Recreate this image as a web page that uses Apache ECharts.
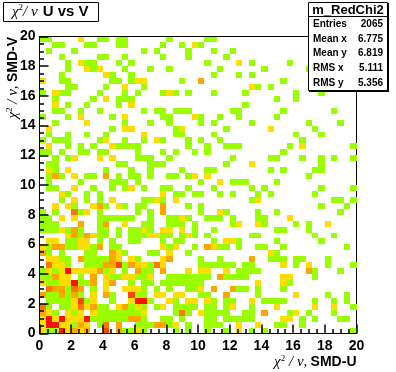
<!DOCTYPE html>
<html><head><meta charset="utf-8">
<script src="https://cdn.jsdelivr.net/npm/echarts@6/dist/echarts.min.js"></script>
<style>html,body{margin:0;padding:0;background:#fff}#c{width:396px;height:372px}</style>
</head><body><div id="c"></div>
<script>
const xMin = 0, xMax = 20, yMin = 0, yMax = 20, binSize = 0.4;
const tickInterval = 2;
const statsName = 'm_RedChi2';
const statsLabels = ['Entries', 'Mean x', 'Mean y', 'RMS x', 'RMS y'];
const statsValues = ['2065', '6.775', '6.819', '5.111', '5.356'];
const palette = {1:'#99ff00', 2:'#ffdd00', 3:'#ffa500', 4:'#ff7700', 5:'#ff4400', 6:'#ff1100'};
// Occupied bins per row (bottom row first): "column" has count 1, "column=count" otherwise.
const rows = [
"0=2 1 2 3=6 4=2 5=3 6=2 7=3 10=5 12=3 13 14 15=2 16 21 23 26 29 31=2 33 35 49",
"0=2 1=6 2=6 3=2 4=2 5 6=3 7=2 9 10=4 12=3 15 16 17 18=3 19=3 20 21=2 23 26 27 28 31=2 34=2 37 38 41",
"0=2 1=6 2=2 3=6 4=2 5=2 6=2 7=6 8 9 10 11 12 13 14=3 15=3 16 19 20 22 26 27 29 30 31 32 33 38=2 39=2 41 43 47 48",
"0=3 1=2 2 4=2 5 6=2 8=2 9 10 11 12 13 14 15 16=2 21 22=4 23 25=2 26 27 28 29 32 33 35=3 39 40=2 42 46",
"0=4 1 3 4 5=2 6=4 7=2 8=3 9 10 12=2 13=3 14 15=2 16 18 19=2 21 22 23 24 26 27 29 30=2 33 37=2 43=2 46=2 49",
"1 2 3 4 5=2 6=5 7 8=2 11 14=2 15=6 16=6 17 20=2 21 23=2 24=2 26=2 27 29 30 33=2 35 36 37 38 43 46 48",
"0=3 1 2 3=3 4 5=3 6 8=2 10=3 11 14=5 15 16 18=2 19=2 21=2 22=2 25 26 29=3 34 40=2 45 48",
"1=4 2=3 3=3 4 5=4 6=3 8 10=2 13=2 14=2 15=2 16 18 20 23 24 25=2 27=3 30=3 31 32 34 38",
"0=2 1 2 3=2 4=2 5=6 6 7 8=3 10=2 11=3 14 16 17 19 20 21 22 23 24 25 34=2 38=2 39",
"0 1 2=3 3=2 4=2 6 8=3 10=2 11 12 13=2 14=2 15 16 17=2 20 21 22 23 24 25 26 28=3 29 30 31 32 38=2 39=2 43",
"0 1=2 2 3=2 4=6 5=2 6=2 7=2 8=2 9=3 10 11=2 13 15=3 16 17 19=3 23=2 25=2 26=2 29=2 31 32 33 34 42=3 43 47",
"1=4 2=2 3=2 4 7 8 9 10=3 11=3 12=5 13 14=3 15=2 16=2 17 18=4 19=2 25 26 27 28 29 30 32 33 38=2 40 42=2 45 49",
"1=2 2=2 3 4 6=3 7 8 9 10 11=3 12=2 14=2 15 19=2 20=3 25 28 33=3 36 37 38 40 41 45",
"0=3 1 3 7 8 11=3 12=2 13 17 18 20=2 23 36=2 37",
"0=2 1 2=3 3=3 4 5 6=2 7=2 8 9=3 11 12 19=2 20 21=2 24 26=3 27=2 28 29 31 34 35 38 48",
"1=2 2=2 4 5 6=2 7=2 9 11 14 15 19 21 22 27 29=2 30=2 31 37 44",
"4=2 5=3 6 7=3 8=2 9 10 12 14 15 16 17=2 18=2 19 20 22 23=2 24 26 33 34 43 46",
"0 1 2 3=2 4 5=3 6 9 10 12 14 15 16=2 17 19=2 20=2 22=2 24 27 37 38 42",
"0 1 2 6=3 9 10=3 13=2 16 17 20 21 22 24 30 31=2 34=2 35 40 42 45=2",
"0 1 3=2 5=2 9 10 11 12 13 14 17 20 21 22=2 23 26 27 28 30 34 35 39=2",
"0 2 5=4 6 7=2 9 15 17 19=3 25 28=2 29 34 37 47",
"2=2 4=2 5 8=2 9=3 10 12=2 13 15 16 19=3 23 25 44 48",
"3 5=2 7 9 11=2 16 17 18=2 19 21=2 33 34=2 46 47 49",
"3=2 4 7 9 19=2 21 22 24 25 28 30 34 36 43",
"1 2 5=2 8 11 13 14=2 16 19 20 23 27 33 35 44 49",
"1 6 11 12 13 15 25 28=2 30 31 32 37",
"1 2=3 3 5=2 7 8 10=3 12 14 15 17 20 21 23 24=2 26=2 42",
"1=2 2 4=2 10 14 17 22 26 27 36 38 43 44",
"1 2 12 13 17 18 19 29 33=2 44",
"2 4 5=2 9=2 11=2 15 16 17 20 30 36 37 41 44 46 49",
"0 1 3 6 7 9 10 15 19 21 24 26 38",
"1=2 4 6 8 11=2 12 13 14 15 23 26 29 30 31 39 41=2 49",
"0 2 3 4 9 10=2 13 16 18=2 19 23 25 28 41",
"1 4 7 10 16=2 21 22 27 40 44",
"1=2 11 13=2 14=2 21 22=2 29 36=2 43",
"2 7=2 13 17 20 25 27 33 42 47",
"0 4 6=2 11 13=2 19 20 24=2 25 28 31 37",
"2 3 6 9 16 18 19 21 22 23 30 31 38 46",
"2=2 4 7 12 14=2 32",
"2 8 10=2 12 13 14 37 40",
"0 2=2 3 4 9 13 15 19 20=2 21 23 27 32 40 44",
"4 5 10 13=2 16 33=2 34 36",
"0=2 3 4 11 12 14 15=2 16=2 22 25=3 38",
"3 10=2 11 14 27 31 33",
"4 7=2 8 9=2 13 17 20 28 35 42",
"4 6=2 7 8 12 14 26 31=2 33 39",
"3 9 10 13 19 23 29",
"1 5 16 18 23 27 30",
"2 3 7 8 12 13 19 22 24=2 25",
"0 1 6=2 9 10 12 13 20 26 27"
];
const bins = [];
rows.forEach((row, j) => row.split(' ').forEach(tok => {
  const [c, v] = tok.split('=');
  bins.push([Number(c) * binSize, j * binSize, v ? Number(v) : 1]);
}));

const sup = {fontFamily:'Liberation Serif', fontSize:9, fontWeight:'normal', verticalAlign:'top', padding:[0,0,5,0], color:'#000'};
const sym = {fontFamily:'Liberation Serif', fontStyle:'italic', fontWeight:'normal', fontSize:15, color:'#000'};
const bold = {fontFamily:'Liberation Sans', fontWeight:'bold', fontSize:14, color:'#000'};

const statTexts = [];
statsLabels.forEach((t, i) => {
  const y = [24, 39, 53, 68, 83][i];
  statTexts.push({type:'text', style:{text:t, x:313, y, verticalAlign:'middle', align:'left', font:'bold 10px "Liberation Sans"', fill:'#000'}, z:102});
  statTexts.push({type:'text', style:{text:statsValues[i], x:383, y, verticalAlign:'middle', align:'right', font:'bold 10px "Liberation Sans"', fill:'#000'}, z:102});
});

const axisCommon = {
  type:'value', min:xMin, max:xMax, interval:tickInterval, z:10,
  axisLine:{show:true, onZero:false, lineStyle:{color:'#000', width:1}},
  axisTick:{show:true, inside:true, length:9, lineStyle:{color:'#000', width:1.5}},
  minorTick:{show:true, splitNumber:4, length:4.5, lineStyle:{color:'#000', width:1.5}},
  splitLine:{show:false},
  axisLabel:{color:'#000', fontFamily:'Liberation Sans', fontWeight:'bold', fontSize:14, margin:6, showMinLabel:true, showMaxLabel:true, hideOverlap:false}
};
const chart = echarts.init(document.getElementById('c'), null, {renderer:'canvas'});
chart.setOption({
  animation:false,
  backgroundColor:'#fff',
  title:{
    text:'{s|χ}{u|2}{s|/ ν} {b|U vs V}',
    left:3, top:2, padding:[1,10,1,9], borderColor:'#000', borderWidth:1,
    textStyle:{rich:{s:sym, u:sup, b:{...bold,fontSize:15}}}
  },
  grid:{left:39.5, right:39.5, top:36.5, bottom:38.5, outerBoundsMode:'none', containLabel:false, show:true, borderColor:'#000', borderWidth:1},
  xAxis:{...axisCommon,
    name:'{s|χ}{u|2}{s| / ν,} {b|SMD-U}', nameLocation:'end', nameGap:0,
    nameTextStyle:{color:'#000', align:'right', verticalAlign:'top', padding:[21,0,0,0], rich:{s:sym, u:sup, b:bold}}
  },
  yAxis:{...axisCommon, axisLabel:{...axisCommon.axisLabel, margin:4}},
  series:[{
    type:'custom', coordinateSystem:'cartesian2d', clip:true, z:2,
    data:bins, encode:{x:0, y:1},
    renderItem(params, api){
      const x = api.value(0), y = api.value(1), n = api.value(2);
      const a = api.coord([x, y]), b = api.coord([x + binSize, y + binSize]);
      const x0 = Math.round(a[0]), x1 = Math.round(b[0]), y0 = Math.round(b[1]), y1 = Math.round(a[1]);
      return {type:'rect', shape:{x:x0, y:y0, width:x1 - x0, height:y1 - y0}, style:{fill:palette[n]}};
    }
  }],
  graphic:[
    {type:'text', rotation:Math.PI/2, x:13, y:37, style:{text:'{s|χ}{u|2}{s| / ν,} {b|SMD-V}', align:'right', verticalAlign:'middle', rich:{s:sym, u:sup, b:bold}}, z:50},
    {type:'rect', shape:{x:309, y:3, width:80, height:89}, style:{fill:'#000'}, z:100},
    {type:'rect', shape:{x:308.5, y:2.5, width:79, height:88}, style:{fill:'#fff', stroke:'#000', lineWidth:1}, z:101},
    {type:'line', shape:{x1:308, y1:16.5, x2:388, y2:16.5}, style:{stroke:'#000', lineWidth:1}, z:102},
    {type:'text', style:{text:statsName, x:348, y:10, align:'center', verticalAlign:'middle', font:'bold 13px "Liberation Sans"', fill:'#000'}, z:102},
    ...statTexts
  ]
});
</script></body></html>
